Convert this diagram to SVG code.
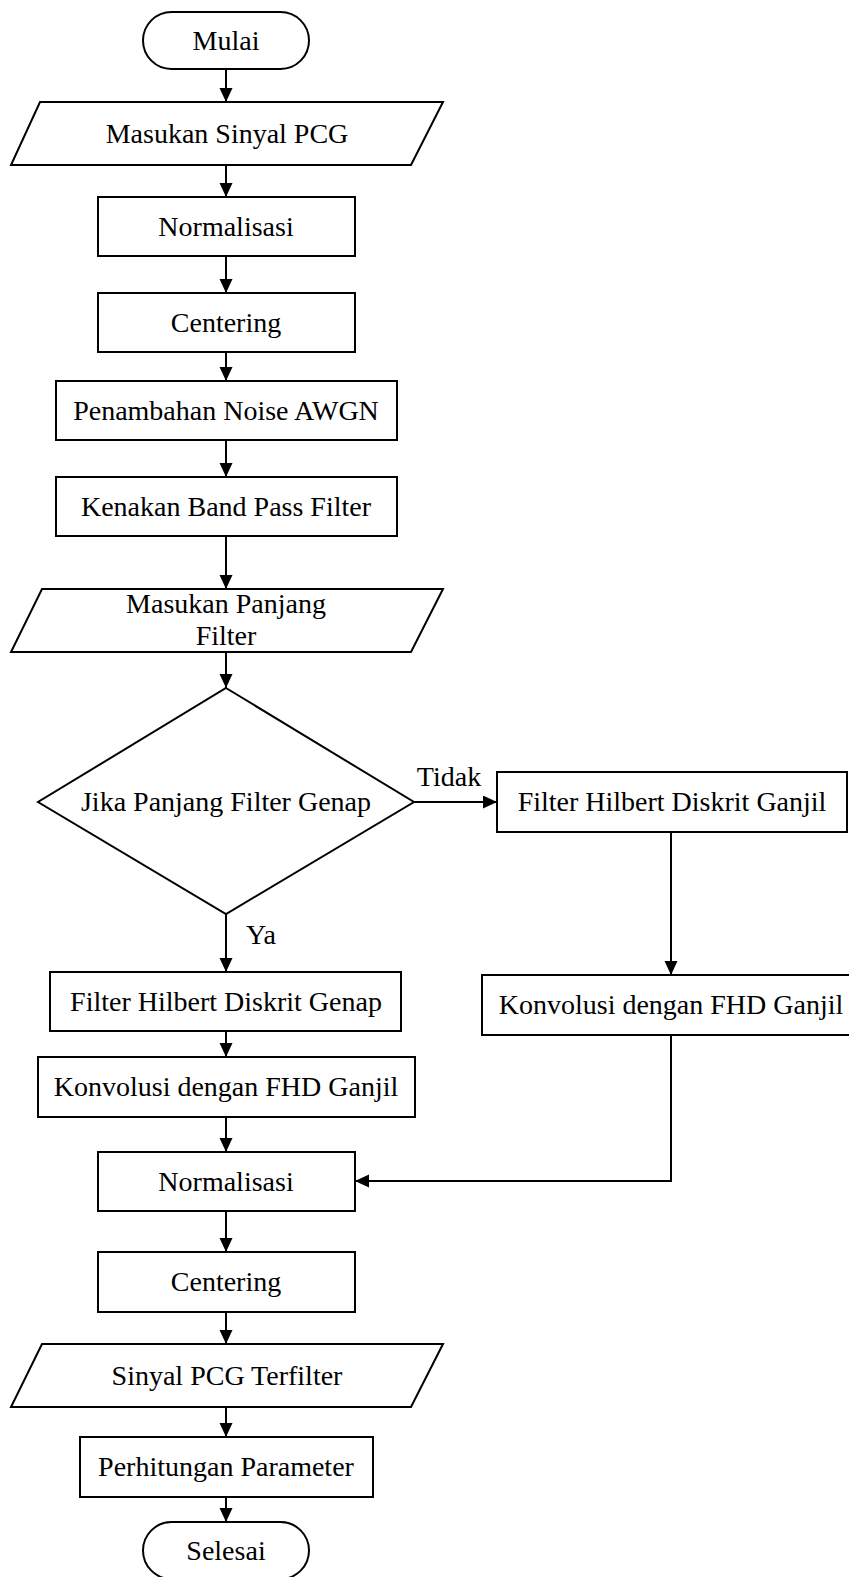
<svg xmlns="http://www.w3.org/2000/svg" width="849" height="1577" viewBox="0 0 849 1577">
  <style>
    .shape { fill: #ffffff; stroke: #000000; stroke-width: 2; }
    .label { font-family: "Liberation Serif", "Times New Roman", serif; font-size: 28px; fill: #000000; text-anchor: middle; }
    .edge { fill: none; stroke: #000000; stroke-width: 2; marker-end: url(#arrow); }
  </style>
  <defs>
    <marker id="arrow" markerUnits="userSpaceOnUse" markerWidth="15" markerHeight="14" refX="14" refY="6.5" orient="auto">
      <path d="M0,0 L14,6.5 L0,13 Z" fill="#000000"/>
    </marker>
  </defs>
  <rect width="849" height="1577" fill="#ffffff"/>

  <!-- connectors -->
  <g id="connectors">
    <path class="edge" d="M226,69 V102"/>
    <path class="edge" d="M226,165 V197"/>
    <path class="edge" d="M226,256 V293"/>
    <path class="edge" d="M226,352 V381"/>
    <path class="edge" d="M226,440 V477"/>
    <path class="edge" d="M226,536 V589"/>
    <path class="edge" d="M226,652 V688"/>
    <path class="edge" d="M414,802 H497"/>
    <path class="edge" d="M226,914 V972"/>
    <path class="edge" d="M671,832 V975"/>
    <path class="edge" d="M226,1031 V1057"/>
    <path class="edge" d="M226,1117 V1152"/>
    <path class="edge" d="M671,1035 V1181 H355"/>
    <path class="edge" d="M226,1211 V1252"/>
    <path class="edge" d="M226,1312 V1344"/>
    <path class="edge" d="M226,1407 V1437"/>
    <path class="edge" d="M226,1497 V1522"/>
    <text class="label" x="449" y="786">Tidak</text>
    <text class="label" x="261" y="944">Ya</text>
  </g>

  <g id="mulai">
    <rect class="shape" x="143" y="12" width="166" height="57" rx="28.5" ry="28.5"/>
    <text class="label" x="226" y="50">Mulai</text>
  </g>
  <g id="input-sinyal">
    <polygon class="shape" points="40,102 443,102 411,165 11,165"/>
    <text class="label" x="227" y="143">Masukan Sinyal PCG</text>
  </g>
  <g id="normalisasi-1">
    <rect class="shape" x="98" y="197" width="257" height="59"/>
    <text class="label" x="226" y="236">Normalisasi</text>
  </g>
  <g id="centering-1">
    <rect class="shape" x="98" y="293" width="257" height="59"/>
    <text class="label" x="226" y="332">Centering</text>
  </g>
  <g id="noise">
    <rect class="shape" x="56" y="381" width="341" height="59"/>
    <text class="label" x="226" y="420">Penambahan Noise AWGN</text>
  </g>
  <g id="bandpass">
    <rect class="shape" x="56" y="477" width="341" height="59"/>
    <text class="label" x="226" y="516">Kenakan Band Pass Filter</text>
  </g>
  <g id="input-panjang">
    <polygon class="shape" points="42,589 443,589 411,652 11,652"/>
    <text class="label" x="226" y="613">Masukan Panjang</text>
    <text class="label" x="226" y="645">Filter</text>
  </g>
  <g id="decision">
    <polygon class="shape" points="226,688 414,802 226,914 38,802"/>
    <text class="label" x="226" y="811">Jika Panjang Filter Genap</text>
  </g>
  <g id="fhd-ganjil">
    <rect class="shape" x="497" y="772" width="350" height="60"/>
    <text class="label" x="672" y="811">Filter Hilbert Diskrit Ganjil</text>
  </g>
  <g id="konvolusi-kanan">
    <rect class="shape" x="482" y="975" width="380" height="60"/>
    <text class="label" x="671" y="1014">Konvolusi dengan FHD Ganjil</text>
  </g>
  <g id="fhd-genap">
    <rect class="shape" x="50" y="972" width="351" height="59"/>
    <text class="label" x="226" y="1011">Filter Hilbert Diskrit Genap</text>
  </g>
  <g id="konvolusi-kiri">
    <rect class="shape" x="38" y="1057" width="377" height="60"/>
    <text class="label" x="226" y="1096">Konvolusi dengan FHD Ganjil</text>
  </g>
  <g id="normalisasi-2">
    <rect class="shape" x="98" y="1152" width="257" height="59"/>
    <text class="label" x="226" y="1191">Normalisasi</text>
  </g>
  <g id="centering-2">
    <rect class="shape" x="98" y="1252" width="257" height="60"/>
    <text class="label" x="226" y="1291">Centering</text>
  </g>
  <g id="output-sinyal">
    <polygon class="shape" points="42,1344 443,1344 411,1407 11,1407"/>
    <text class="label" x="227" y="1385">Sinyal PCG Terfilter</text>
  </g>
  <g id="parameter">
    <rect class="shape" x="80" y="1437" width="293" height="60"/>
    <text class="label" x="226" y="1476">Perhitungan Parameter</text>
  </g>
  <g id="selesai">
    <rect class="shape" x="143" y="1522" width="166" height="57" rx="28.5" ry="28.5"/>
    <text class="label" x="226" y="1560">Selesai</text>
  </g>
</svg>
